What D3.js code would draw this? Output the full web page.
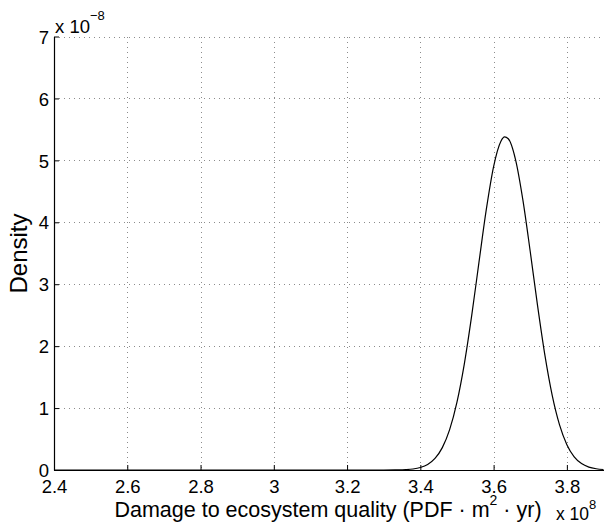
<!DOCTYPE html>
<html>
<head>
<meta charset="utf-8">
<script src="https://cdn.jsdelivr.net/npm/d3@7"></script>
<style>
  html, body { margin: 0; padding: 0; background: #fff; }
  svg { display: block; }
  text { font-family: "Liberation Sans", Arial, Helvetica, sans-serif; fill: #000; }
</style>
</head>
<body>
<svg id="chart" width="607" height="529"></svg>
<script>
// ---- data (x in units of 1e8, density in units of 1e-8) ----
const xTicks = [2.4, 2.6, 2.8, 3.0, 3.2, 3.4, 3.6, 3.8];
const xTickLabels = ["2.4", "2.6", "2.8", "3", "3.2", "3.4", "3.6", "3.8"];
const yTicks = [0, 1, 2, 3, 4, 5, 6, 7];
const yTickLabels = ["0", "1", "2", "3", "4", "5", "6", "7"];
const xDomain = [2.4, 3.9];
const yDomain = [0, 7];

const damage = [2.40, 3.30, 3.34, 3.36, 3.38, 3.40, 3.42, 3.44, 3.46, 3.48, 3.50,
  3.52, 3.54, 3.56, 3.58, 3.60, 3.62, 3.63, 3.64, 3.66, 3.68, 3.70, 3.72,
  3.74, 3.76, 3.78, 3.80, 3.82, 3.84, 3.86, 3.88, 3.90];
const density = [0.000, 0.000, 0.002, 0.006, 0.016, 0.040, 0.089, 0.186, 0.361, 0.652, 1.096,
  1.711, 2.484, 3.352, 4.203, 4.900, 5.310, 5.378, 5.349, 5.009, 4.358, 3.528, 2.653,
  1.854, 1.205, 0.728, 0.409, 0.213, 0.104, 0.047, 0.020, 0.008];

const xLabel = "Damage to ecosystem quality (PDF · m";
const xLabelSup = "2";
const xLabelEnd = " · yr)";
const yLabel = "Density";

// ---- layout ----
const svg = d3.select("#chart");
const mLeft = 54, mRight = 603.5, mTop = 36.5, mBottom = 470;
const x = d3.scaleLinear().domain(xDomain).range([mLeft, mRight]);
const y = d3.scaleLinear().domain(yDomain).range([mBottom, mTop]);
const tickFont = 18.5, labelFont = 21.5, supFont = 13;

// grid
const grid = svg.append("g").attr("stroke", "#8c8c8c").attr("stroke-width", 1)
  .attr("stroke-dasharray", "1,4").attr("shape-rendering", "crispEdges");
xTicks.slice(1).forEach(t => {
  grid.append("line").attr("x1", Math.round(x(t)) + 0.5).attr("x2", Math.round(x(t)) + 0.5)
    .attr("y1", mTop).attr("y2", mBottom);
});
yTicks.slice(1).forEach(t => {
  grid.append("line").attr("y1", Math.round(y(t)) + 0.5).attr("y2", Math.round(y(t)) + 0.5)
    .attr("x1", mLeft).attr("x2", mRight);
});

// axes
const xAxis = d3.axisBottom(x).tickValues(xTicks)
  .tickFormat((d, i) => xTickLabels[i]).tickSizeInner(-5).tickSizeOuter(0).tickPadding(10);
const gx = svg.append("g").attr("transform", `translate(0,${mBottom})`).call(xAxis);
gx.attr("font-family", null).attr("font-size", null);
gx.select(".domain").attr("stroke", "#000").attr("stroke-width", 1.2);
gx.selectAll(".tick line").attr("stroke", "#000");
gx.selectAll(".tick text").attr("font-size", tickFont).attr("dy", "0.71em");

const yAxis = d3.axisLeft(y).tickValues(yTicks)
  .tickFormat((d, i) => yTickLabels[i]).tickSizeInner(-5).tickSizeOuter(0).tickPadding(5);
const gy = svg.append("g").attr("transform", `translate(${mLeft},0)`).call(yAxis);
gy.attr("font-family", null).attr("font-size", null);
gy.select(".domain").attr("stroke", "#000").attr("stroke-width", 1.2);
gy.selectAll(".tick line").attr("stroke", "#000");
gy.selectAll(".tick text").attr("font-size", tickFont).attr("dy", "0.36em");

// curve
const pts = damage.map((d, i) => [d, density[i]]);
const line = d3.line().x(d => x(d[0])).y(d => y(d[1])).curve(d3.curveMonotoneX);
svg.append("path").datum(pts).attr("d", line)
  .attr("fill", "none").attr("stroke", "#000").attr("stroke-width", 1.2);

// exponent labels
const ex = svg.append("text").attr("x", 55).attr("y", 33).attr("font-size", tickFont);
ex.append("tspan").text("x 10");
ex.append("tspan").attr("dy", -13).attr("font-size", supFont).text("−8");

const ex2 = svg.append("text").attr("x", 556).attr("y", 520).attr("font-size", 17.5);
ex2.append("tspan").text("x 10");
ex2.append("tspan").attr("dy", -11).attr("font-size", supFont).text("8");

// axis labels
const xl = svg.append("text").attr("x", 328).attr("y", 517)
  .attr("text-anchor", "middle").attr("font-size", labelFont);
xl.append("tspan").text(xLabel);
xl.append("tspan").attr("dy", -12).attr("font-size", 14).text(xLabelSup);
xl.append("tspan").attr("dy", 12).text(xLabelEnd);

svg.append("text").attr("transform", `translate(26.5,253.5) rotate(-90)`)
  .attr("text-anchor", "middle").attr("font-size", 24).text(yLabel);
</script>
</body>
</html>
